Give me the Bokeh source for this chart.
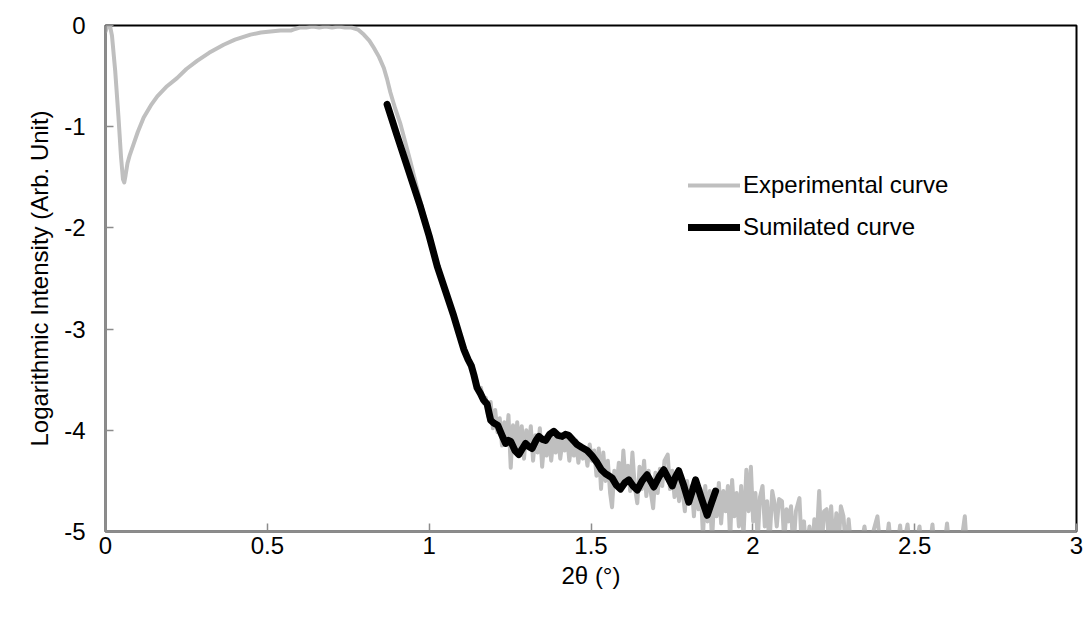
from bokeh.plotting import figure
from bokeh.models import Range1d, Legend, LegendItem, FixedTicker, ColumnDataSource
from bokeh.embed import file_html
from bokeh.resources import INLINE

# ---------------- data ----------------
x_ticks = [0, 0.5, 1, 1.5, 2, 2.5, 3]
x_tick_labels = ["0", "0.5", "1", "1.5", "2", "2.5", "3"]
y_ticks = [0, -1, -2, -3, -4, -5]
y_tick_labels = ["0", "-1", "-2", "-3", "-4", "-5"]

exp_x = [0.000, 0.005, 0.010, 0.015, 0.020, 0.030, 0.040, 0.048, 0.054, 0.058, 0.062, 0.068,
         0.075, 0.087, 0.100, 0.118, 0.140, 0.160, 0.190, 0.221, 0.250, 0.283, 0.320, 0.365,
         0.400, 0.448, 0.480, 0.510, 0.540, 0.572, 0.580, 0.590, 0.600, 0.620, 0.640, 0.660,
         0.680, 0.700, 0.720, 0.740, 0.760, 0.780, 0.798, 0.815, 0.829, 0.845, 0.860, 0.870,
         0.880, 0.895, 0.911, 0.940, 0.973, 1.000, 1.025, 1.050, 1.076, 1.090, 1.107, 1.120,
         1.130, 1.138, 1.145, 1.152, 1.160, 1.168, 1.175, 1.182, 1.190, 1.197, 1.204, 1.211,
         1.218, 1.225, 1.232, 1.239, 1.245, 1.252, 1.259, 1.266, 1.272, 1.279, 1.286, 1.293,
         1.300, 1.307, 1.314, 1.321, 1.328, 1.335, 1.342, 1.349, 1.356, 1.363, 1.370, 1.377,
         1.384, 1.391, 1.398, 1.405, 1.412, 1.419, 1.426, 1.433, 1.440, 1.447, 1.454, 1.461,
         1.468, 1.475, 1.482, 1.489, 1.496, 1.503, 1.510, 1.517, 1.524, 1.531, 1.538, 1.545,
         1.552, 1.559, 1.565, 1.572, 1.579, 1.586, 1.593, 1.600, 1.607, 1.614, 1.621, 1.628,
         1.635, 1.643, 1.650, 1.657, 1.664, 1.671, 1.678, 1.685, 1.692, 1.699, 1.706, 1.713,
         1.720, 1.727, 1.737, 1.744, 1.751, 1.758, 1.765, 1.772, 1.779, 1.790, 1.797, 1.804,
         1.811, 1.818, 1.825, 1.832, 1.839, 1.846, 1.853, 1.860, 1.867, 1.874, 1.881, 1.888,
         1.895, 1.902, 1.909, 1.916, 1.923, 1.930, 1.936, 1.943, 1.950, 1.957, 1.964, 1.971,
         1.980, 1.987, 1.994, 2.001, 2.008, 2.015, 2.022, 2.030, 2.037, 2.044, 2.051, 2.060,
         2.067, 2.074, 2.081, 2.090, 2.097, 2.104, 2.111, 2.118, 2.125, 2.133, 2.144, 2.151,
         2.158, 2.165, 2.175, 2.184, 2.190, 2.197, 2.205, 2.212, 2.220, 2.228, 2.235, 2.242,
         2.250, 2.258, 2.265, 2.272, 2.280, 2.288, 2.296, 2.305, 2.330, 2.345, 2.355, 2.385,
         2.395, 2.410, 2.420, 2.428, 2.445, 2.455, 2.462, 2.478, 2.486, 2.500, 2.515, 2.522,
         2.545, 2.555, 2.562, 2.590, 2.600, 2.608, 2.640, 2.655, 2.662, 2.700]
exp_y = [-0.06, -0.01, 0.00, -0.02, -0.10, -0.45, -0.90, -1.30, -1.52, -1.55, -1.48, -1.36,
         -1.28, -1.17, -1.05, -0.91, -0.79, -0.70, -0.60, -0.52, -0.43, -0.35, -0.27, -0.19,
         -0.14, -0.09, -0.07, -0.06, -0.05, -0.05, -0.04, -0.03, -0.02, -0.02, -0.01, -0.02,
         -0.01, -0.02, -0.01, -0.02, -0.02, -0.04, -0.09, -0.15, -0.22, -0.31, -0.42, -0.53,
         -0.66, -0.82, -0.97, -1.32, -1.74, -2.06, -2.35, -2.60, -2.86, -3.02, -3.18, -3.32,
         -3.36, -3.45, -3.50, -3.62, -3.58, -3.73, -3.68, -3.86, -3.72, -3.98, -3.80, -4.02,
         -3.88, -4.15, -3.92, -4.10, -3.85, -4.37, -3.95, -4.20, -3.92, -4.22, -3.96, -4.28,
         -4.00, -4.18, -3.96, -4.30, -4.05, -4.22, -3.98, -4.36, -4.10, -4.25, -4.05, -4.30,
         -4.08, -4.22, -4.04, -4.28, -4.10, -4.20, -4.06, -4.30, -4.12, -4.25, -4.10, -4.32,
         -4.15, -4.28, -4.18, -4.35, -4.14, -4.30, -4.20, -4.45, -4.18, -4.58, -4.22, -4.50,
         -4.30, -4.62, -4.76, -4.40, -4.55, -4.32, -4.60, -4.20, -4.52, -4.35, -4.60, -4.22,
         -4.55, -4.72, -4.36, -4.58, -4.30, -4.65, -4.40, -4.62, -4.77, -4.42, -4.62, -4.38,
         -4.55, -4.30, -4.24, -4.58, -4.40, -4.66, -4.45, -4.70, -4.48, -4.80, -4.50, -4.72,
         -4.55, -4.85, -4.50, -4.78, -4.58, -5.05, -4.55, -4.90, -4.60, -5.10, -4.62, -4.85,
         -4.52, -4.92, -4.60, -4.80, -4.55, -5.10, -4.49, -4.85, -4.62, -4.95, -4.55, -5.05,
         -4.39, -4.80, -4.36, -4.90, -4.62, -5.10, -4.66, -4.55, -4.95, -4.70, -5.15, -4.60,
         -4.72, -4.95, -4.68, -4.70, -5.10, -4.78, -4.90, -4.75, -5.20, -4.80, -4.67, -5.15,
         -4.90, -5.20, -4.95, -5.20, -4.88, -5.10, -4.60, -5.20, -4.80, -4.78, -5.10, -4.75,
         -5.20, -4.82, -5.15, -4.75, -4.85, -5.20, -4.88, -5.20, -5.20, -4.95, -5.20, -4.85,
         -5.20, -5.20, -4.92, -5.20, -5.20, -4.94, -5.20, -4.93, -5.20, -5.20, -4.95, -5.20,
         -5.20, -4.93, -5.20, -5.20, -4.92, -5.20, -5.20, -4.85, -5.20, -5.20]

sim_x = [0.870, 0.900, 0.940, 0.973, 1.000, 1.025, 1.050, 1.076, 1.092, 1.107, 1.120, 1.130,
         1.138, 1.148, 1.159, 1.168, 1.179, 1.185, 1.190, 1.200, 1.212, 1.225, 1.236, 1.245,
         1.252, 1.265, 1.277, 1.288, 1.298, 1.308, 1.318, 1.330, 1.339, 1.350, 1.360, 1.372,
         1.385, 1.398, 1.411, 1.421, 1.431, 1.445, 1.457, 1.472, 1.488, 1.503, 1.519, 1.532,
         1.545, 1.555, 1.565, 1.578, 1.591, 1.604, 1.617, 1.630, 1.643, 1.658, 1.673, 1.684,
         1.694, 1.710, 1.725, 1.738, 1.751, 1.761, 1.771, 1.787, 1.802, 1.813, 1.823, 1.842,
         1.859, 1.872, 1.885]
sim_y = [-0.78, -1.08, -1.47, -1.79, -2.08, -2.38, -2.62, -2.87, -3.04, -3.20, -3.30, -3.36,
         -3.45, -3.58, -3.64, -3.70, -3.74, -3.83, -3.90, -3.93, -3.95, -4.05, -4.13, -4.10,
         -4.11, -4.20, -4.24, -4.18, -4.13, -4.16, -4.18, -4.10, -4.06, -4.09, -4.10, -4.04,
         -4.01, -4.05, -4.06, -4.04, -4.05, -4.10, -4.14, -4.17, -4.20, -4.25, -4.32, -4.39,
         -4.43, -4.45, -4.47, -4.54, -4.58, -4.52, -4.49, -4.55, -4.59, -4.50, -4.44, -4.50,
         -4.56, -4.46, -4.39, -4.47, -4.55, -4.46, -4.40, -4.55, -4.71, -4.60, -4.49, -4.68,
         -4.84, -4.72, -4.60]

series_names = ["Experimental curve", "Sumilated curve"]
x_title = "2θ (°)"
y_title = "Logarithmic Intensity (Arb. Unit)"

# ---------------- figure ----------------
FONT = "Liberation Sans"
FS = "24px"
p = figure(width=1087, height=626, output_backend="svg", toolbar_location=None,
           x_range=Range1d(0, 3), y_range=Range1d(-5, 0),
           min_border_left=105, min_border_right=11, min_border_top=25, min_border_bottom=95)
p.background_fill_color = "white"
p.border_fill_color = "white"
p.xgrid.visible = False
p.ygrid.visible = False
p.outline_line_color = "black"
p.outline_line_width = 2

src_exp = ColumnDataSource(dict(x=exp_x, y=exp_y))
src_sim = ColumnDataSource(dict(x=sim_x, y=sim_y))
r_exp = p.line("x", "y", source=src_exp, line_color="#bfbfbf", line_width=4,
               line_join="round", line_cap="round")
r_sim = p.line("x", "y", source=src_sim, line_color="black", line_width=7,
               line_join="round", line_cap="round")

for ax, ticks, labels in ((p.xaxis[0], x_ticks, x_tick_labels), (p.yaxis[0], y_ticks, y_tick_labels)):
    ax.ticker = FixedTicker(ticks=ticks)
    ax.major_label_overrides = {t: l for t, l in zip(ticks, labels)}
    ax.axis_line_color = "#8c8c8c"
    ax.axis_line_width = 2.5
    ax.major_tick_line_color = "#8c8c8c"
    ax.major_tick_line_width = 1.5
    ax.major_tick_in = 8
    ax.major_tick_out = 0
    ax.minor_tick_line_color = None
    ax.major_label_text_font = FONT
    ax.major_label_text_font_size = FS
    ax.major_label_text_color = "black"
    ax.axis_label_text_font = FONT
    ax.axis_label_text_font_size = FS
    ax.axis_label_text_font_style = "normal"
    ax.axis_label_text_color = "black"

p.xaxis.axis_label = x_title
p.yaxis.axis_label = y_title
p.xaxis.major_label_standoff = 5
p.xaxis.axis_label_standoff = 5
p.yaxis.major_label_standoff = 20
p.yaxis.axis_label_standoff = 8

legend = Legend(items=[LegendItem(label=series_names[0], renderers=[r_exp]),
                       LegendItem(label=series_names[1], renderers=[r_sim])],
                location=(583, 290))
legend.border_line_color = None
legend.background_fill_alpha = 0
legend.padding = 0
legend.margin = 0
legend.spacing = 14
legend.glyph_width = 52
legend.glyph_height = 24
legend.label_height = 24
legend.label_standoff = 3
legend.label_text_font = FONT
legend.label_text_font_size = FS
legend.label_text_color = "black"
p.add_layout(legend)

open("out.html", "w").write(file_html(p, INLINE))
